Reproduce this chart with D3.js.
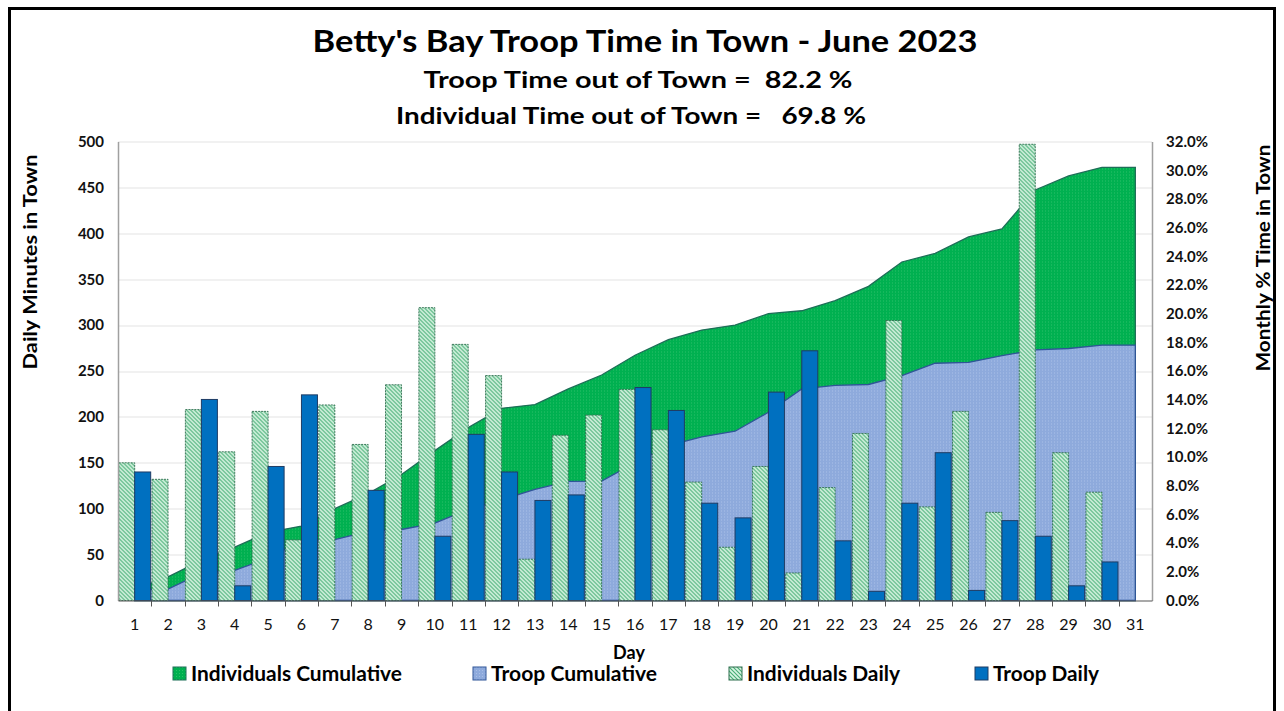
<!DOCTYPE html>
<html>
<head>
<meta charset="utf-8">
<script src="https://cdnjs.cloudflare.com/ajax/libs/d3/7.8.5/d3.min.js"></script>
<style>
    body { margin: 0; background: #fff; }
    svg { display: block; font-family: Lato, 'Open Sans', sans-serif; }
    text { white-space: pre; }
</style>
</head>
<body>
<script>
//values
var days = [1,2,3,4,5,6,7,8,9,10,11,12,13,14,15,16,17,18,19,20,21,22,23,24,25,26,27,28,29,30,31];

//daily minutes in town (left axis)
var indivDaily = [150,132,208,162,206,66,213,170,235,319,279,245,45,180,202,230,186,129,58,146,30,123,182,305,102,206,96,497,161,118,0];
var troopDaily = [140,0,219,16,146,224,0,120,0,70,181,140,109,115,0,232,207,106,90,227,272,65,10,106,161,11,87,70,16,42,0];

//monthly % time in town, running (right axis)
var indivCum = [0.78,1.65,2.8,3.72,4.75,5.19,6.4,7.45,8.78,10.45,12.05,13.4,13.66,14.75,15.72,17.1,18.18,18.85,19.2,20.0,20.2,20.9,21.9,23.6,24.2,25.35,25.9,28.62,29.6,30.2,30.2];
var troopCum = [0.76,0.8,1.9,2.1,2.95,4.15,4.25,4.82,4.95,5.4,6.35,7.02,7.75,8.3,8.32,9.6,10.8,11.4,11.8,13.12,14.75,15.0,15.06,15.68,16.54,16.6,17.07,17.47,17.57,17.8,17.8];

var leftTicks = [0,50,100,150,200,250,300,350,400,450,500];
var rightTicks = [0,2,4,6,8,10,12,14,16,18,20,22,24,26,28,30,32];

var titleText = "Betty's Bay Troop Time in Town - June 2023";
var subTitles = ["Troop Time out of Town =  82.2 %", "Individual Time out of Town =   69.8 %"];
var legendNames = ['Individuals Cumulative', 'Troop Cumulative', 'Individuals Daily', 'Troop Daily'];

//setup graph size
var W = 1284, H = 711;
var margin = {top: 141.5, bottom: 110.5, left: 118, right: 132};
var width = W - margin.left - margin.right,
    height = H - margin.top - margin.bottom;

//scales
var xScale = d3.scaleBand().domain(days).range([0, width]).padding(0),
    yLeft = d3.scaleLinear().domain([0, 500]).range([height, 0]),
    yRight = d3.scaleLinear().domain([0, 32]).range([height, 0]);
var barW = xScale.bandwidth() * 0.48;
var xMid = function(d) { return xScale(d) + xScale.bandwidth() / 2; };

var svg = d3.select('body').append('svg')
    .attr('width', W)
    .attr('height', H);

//patterns for the fills
var defs = svg.append('defs');

var hatch = defs.append('pattern').attr('id', 'hatch')
    .attr('patternUnits', 'userSpaceOnUse').attr('width', 4).attr('height', 4);
hatch.append('rect').attr('width', 4).attr('height', 4).attr('fill', '#d9f4e3');
hatch.append('path').attr('d', 'M-1,-1 L5,5 M3,-1 L5,1 M-1,3 L1,5')
    .attr('stroke', '#45ad74').attr('stroke-width', 1.1);

var dots = defs.append('pattern').attr('id', 'greendots')
    .attr('patternUnits', 'userSpaceOnUse').attr('width', 3).attr('height', 3);
dots.append('rect').attr('width', 3).attr('height', 3).attr('fill', '#00b050');
dots.append('rect').attr('width', 1).attr('height', 1).attr('fill', '#2cc06a');

var lav = defs.append('pattern').attr('id', 'lavdots')
    .attr('patternUnits', 'userSpaceOnUse').attr('width', 3).attr('height', 3);
lav.append('rect').attr('width', 3).attr('height', 3).attr('fill', '#8eaadc');
lav.append('rect').attr('width', 1).attr('height', 1).attr('fill', '#a9bfe7');

//outer frame
svg.append('rect')
    .attr('x', 9.5).attr('y', 8.5)
    .attr('width', 1265).attr('height', 730)
    .attr('fill', 'none').attr('stroke', '#000').attr('stroke-width', 3);

//titles
svg.append('text')
    .attr('x', 645).attr('y', 52)
    .attr('text-anchor', 'middle')
    .attr('font-size', 30).attr('font-weight', 'bold')
    .attr('textLength', 665).attr('lengthAdjust', 'spacingAndGlyphs')
    .text(titleText);
svg.append('text')
    .attr('x', 638).attr('y', 88)
    .attr('text-anchor', 'middle')
    .attr('font-size', 23).attr('font-weight', 'bold')
    .attr('textLength', 429).attr('lengthAdjust', 'spacingAndGlyphs')
    .text(subTitles[0]);
svg.append('text')
    .attr('x', 631).attr('y', 124)
    .attr('text-anchor', 'middle')
    .attr('font-size', 23).attr('font-weight', 'bold')
    .attr('textLength', 470).attr('lengthAdjust', 'spacingAndGlyphs')
    .text(subTitles[1]);

var g = svg.append('g')
    .attr('transform', 'translate(' + margin.left + ',' + margin.top + ')');

//gridlines on the left axis values
g.append('g').attr('class', 'grid')
    .selectAll('line').data(leftTicks.slice(1))
    .enter().append('line')
    .attr('x1', 0).attr('x2', width)
    .attr('y1', function(d) { return Math.round(yLeft(d)) + 0.5; })
    .attr('y2', function(d) { return Math.round(yLeft(d)) + 0.5; })
    .attr('stroke', '#e3e3e3').attr('stroke-width', 1);

//cumulative areas (right axis), points on the day centres
var area = function(vals) {
    return d3.area()
        .x(function(d, i) { return xMid(days[i]); })
        .y0(height)
        .y1(function(d) { return yRight(d); })(vals);
};

g.append('path')
    .attr('d', area(indivCum))
    .attr('fill', 'url(#greendots)')
    .attr('stroke', '#1d6e57').attr('stroke-width', 1.3);

g.append('path')
    .attr('d', area(troopCum))
    .attr('fill', 'url(#lavdots)')
    .attr('stroke', '#2f5597').attr('stroke-width', 1.3);

//daily bars (left axis)
g.append('g').selectAll('rect')
    .data(days.filter(function(d, i) { return indivDaily[i] > 0; }))
    .enter().append('rect')
    .attr('x', function(d) { return xMid(d) - barW; })
    .attr('y', function(d) { return yLeft(indivDaily[d - 1]); })
    .attr('width', barW)
    .attr('height', function(d) { return height - yLeft(indivDaily[d - 1]); })
    .attr('fill', 'url(#hatch)')
    .attr('stroke', '#2f6e4f').attr('stroke-width', 0.9)
    .attr('stroke-dasharray', '2,1');

g.append('g').selectAll('rect')
    .data(days.filter(function(d, i) { return troopDaily[i] > 0; }))
    .enter().append('rect')
    .attr('x', function(d) { return xMid(d); })
    .attr('y', function(d) { return yLeft(troopDaily[d - 1]); })
    .attr('width', barW)
    .attr('height', function(d) { return height - yLeft(troopDaily[d - 1]); })
    .attr('fill', '#0070c0')
    .attr('stroke', '#1f3c64').attr('stroke-width', 1);

//left axis
var leftAxis = d3.axisLeft(yLeft).tickValues(leftTicks).tickSize(0).tickPadding(14);
var la = g.append('g').call(leftAxis);
la.select('.domain').attr('stroke', '#a0a0a0').attr('stroke-width', 1.5);
la.selectAll('text')
    .attr('font-family', 'Lato, sans-serif')
    .attr('font-size', 15).attr('font-weight', 'bold').attr('fill', '#111');

//right axis
var rightAxis = d3.axisRight(yRight).tickValues(rightTicks).tickSize(0).tickPadding(14)
    .tickFormat(function(d) { return d.toFixed(1) + '%'; });
var ra = g.append('g').attr('transform', 'translate(' + width + ',0)').call(rightAxis);
ra.select('.domain').attr('stroke', '#a0a0a0').attr('stroke-width', 1.5);
ra.selectAll('text')
    .attr('font-family', 'Lato, sans-serif')
    .attr('font-size', 15).attr('font-weight', 'bold').attr('fill', '#111');

//x axis, ticks on the category edges
var bottomAxis = d3.axisBottom(xScale).tickSize(0).tickPadding(18);
var xa = g.append('g').attr('transform', 'translate(0,' + height + ')').call(bottomAxis);
xa.select('.domain').attr('stroke', '#555').attr('stroke-width', 1.2);
xa.selectAll('text')
    .attr('font-family', 'Lato, sans-serif')
    .attr('font-size', 16).attr('fill', '#111');
xa.append('g').selectAll('line')
    .data(days.slice(1))
    .enter().append('line')
    .attr('x1', function(d) { return Math.round(xScale(d)) + 0.5; })
    .attr('x2', function(d) { return Math.round(xScale(d)) + 0.5; })
    .attr('y1', 0).attr('y2', 6)
    .attr('stroke', '#555');

//axis titles
svg.append('text')
    .attr('transform', 'translate(37,262) rotate(-90)')
    .attr('text-anchor', 'middle')
    .attr('font-size', 19).attr('font-weight', 'bold')
    .attr('textLength', 215).attr('lengthAdjust', 'spacingAndGlyphs')
    .text('Daily Minutes in Town');
svg.append('text')
    .attr('transform', 'translate(1270,258) rotate(-90)')
    .attr('text-anchor', 'middle')
    .attr('font-size', 19).attr('font-weight', 'bold')
    .attr('textLength', 227).attr('lengthAdjust', 'spacingAndGlyphs')
    .text('Monthly % Time in Town');
svg.append('text')
    .attr('x', 629).attr('y', 659)
    .attr('text-anchor', 'middle')
    .attr('font-size', 18).attr('font-weight', 'bold')
    .text('Day');

//legend
var legendX = [173, 473, 729, 975],
    legendW = [211, 166, 153, 106],
    legendFill = ['url(#greendots)', 'url(#lavdots)', 'url(#hatch)', '#0070c0'],
    legendStroke = ['#1d6e57', '#2f5597', '#2f6e4f', '#1f3c64'];

var legend = svg.append('g').selectAll('g')
    .data(legendNames)
    .enter().append('g')
    .attr('transform', function(d, i) { return 'translate(' + legendX[i] + ',667)'; });
legend.append('rect')
    .attr('width', 13).attr('height', 13)
    .attr('fill', function(d, i) { return legendFill[i]; })
    .attr('stroke', function(d, i) { return legendStroke[i]; });
legend.append('text')
    .attr('x', 18).attr('y', 13.5)
    .attr('font-size', 20).attr('font-weight', 'bold')
    .attr('textLength', function(d, i) { return legendW[i]; })
    .attr('lengthAdjust', 'spacingAndGlyphs')
    .text(function(d) { return d; });
</script>
</body>
</html>
